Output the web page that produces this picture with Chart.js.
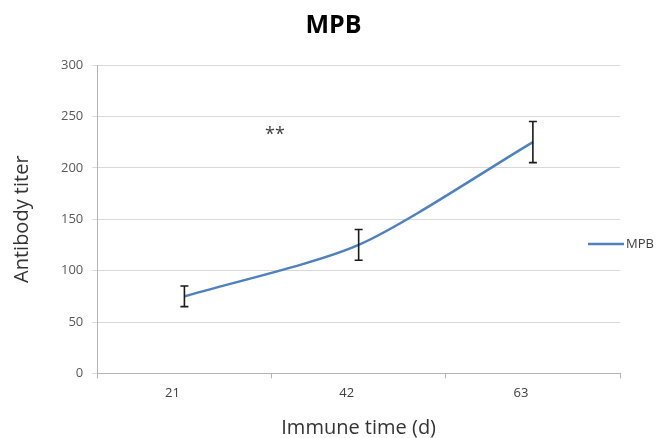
<!DOCTYPE html>
<html>
<head>
<meta charset="utf-8">
<script src="https://cdn.jsdelivr.net/npm/chart.js@4/dist/chart.umd.min.js"></script>
<style>
  html, body { margin: 0; padding: 0; background: #fff; overflow: hidden; }
  #wrap { width: 657px; height: 438px; }
</style>
</head>
<body>
<div id="wrap"><canvas id="c" width="657" height="438"></canvas></div>
<script>
// ---- data ----
const days = ['21', '42', '63'];
const titer = [75, 125, 225];
const titerErr = [10, 15, 20];
const seriesName = 'MPB';
const chartTitle = 'MPB';
const xTitle = 'Immune time (d)';
const yTitle = 'Antibody titer';
const yTicks = [0, 50, 100, 150, 200, 250, 300];
const marks = [{ text: '**', at: 0.52, value: 232 }];

const lineColor = '#4F81BD';
const FONT = "'Open Sans', 'DejaVu Sans', sans-serif";

const extras = {
  id: 'extras',
  afterDatasetsDraw(chart) {
    const ctx = chart.ctx;
    const xs = chart.scales.x, ys = chart.scales.y;
    ctx.save();
    // error bars
    ctx.strokeStyle = '#1a1a1a';
    ctx.lineWidth = 1.6;
    titer.forEach((v, i) => {
      const x = xs.getPixelForValue(i);
      const yt = ys.getPixelForValue(v + titerErr[i]);
      const yb = ys.getPixelForValue(v - titerErr[i]);
      ctx.beginPath();
      ctx.moveTo(x, yt); ctx.lineTo(x, yb);
      ctx.moveTo(x - 4, yt); ctx.lineTo(x + 4, yt);
      ctx.moveTo(x - 4, yb); ctx.lineTo(x + 4, yb);
      ctx.stroke();
    });
    // significance marks
    ctx.fillStyle = '#404040';
    ctx.font = "18px " + FONT;
    ctx.textAlign = 'center';
    ctx.textBaseline = 'middle';
    marks.forEach(m => {
      ctx.fillText(m.text, xs.getPixelForValue(m.at), ys.getPixelForValue(m.value));
    });
    // legend
    const ly = 244;
    ctx.strokeStyle = lineColor;
    ctx.lineWidth = 2.5;
    ctx.beginPath();
    ctx.moveTo(588, ly); ctx.lineTo(624, ly);
    ctx.stroke();
    ctx.fillStyle = '#404040';
    ctx.font = "13px " + FONT;
    ctx.textAlign = 'left';
    ctx.fillText(seriesName, 626, ly);
    ctx.restore();
  }
};

new Chart(document.getElementById('c'), {
  type: 'line',
  data: {
    labels: days,
    datasets: [{
      label: seriesName,
      data: titer,
      borderColor: lineColor,
      backgroundColor: lineColor,
      borderWidth: 2.5,
      pointRadius: 0,
      tension: 0.25,
      fill: false
    }]
  },
  options: {
    responsive: false,
    animation: false,
    layout: { padding: { left: 47, right: 37, top: 13, bottom: 0 } },
    plugins: {
      legend: { display: false },
      tooltip: { enabled: false },
      title: {
        display: true,
        text: chartTitle,
        color: '#000',
        font: { family: FONT, size: 25, weight: 'bold', lineHeight: 1.0 },
        padding: { top: 0, bottom: 27 }
      }
    },
    scales: {
      x: {
        type: 'category',
        offset: true,
        border: { display: true, color: '#b3b3b3', width: 1 },
        grid: { offset: true, drawOnChartArea: false, drawTicks: true, tickLength: 5, color: '#b3b3b3' },
        ticks: { color: '#404040', font: { family: FONT, size: 13 }, padding: 7, labelOffset: -12 },
        title: {
          display: true, text: xTitle, color: '#333',
          font: { family: FONT, size: 20, lineHeight: 1.0 }, padding: { top: 10, bottom: 0 }
        }
      },
      y: {
        min: 0, max: 300,
        afterBuildTicks(scale) { scale.ticks = yTicks.map(v => ({ value: v })); },
        border: { display: true, color: '#b3b3b3', width: 1 },
        grid: { color: '#d9d9d9', tickLength: 5, drawTicks: true },
        ticks: { color: '#595959', font: { family: FONT, size: 13 }, padding: 9 },
        title: {
          display: true, text: yTitle, color: '#333',
          font: { family: FONT, size: 20 }, padding: { top: -37, bottom: 18 }
        }
      }
    }
  },
  plugins: [extras]
});
</script>
</body>
</html>
